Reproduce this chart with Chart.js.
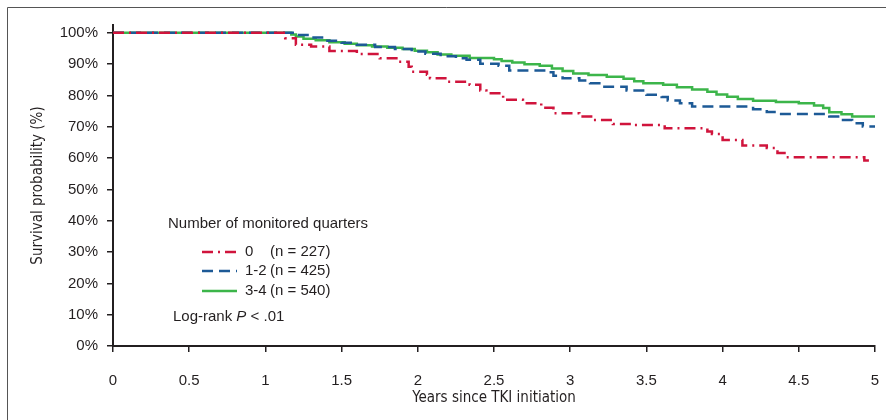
<!DOCTYPE html>
<html>
<head>
<meta charset="utf-8">
<script src="https://cdn.jsdelivr.net/npm/chart.js@4.4.1/dist/chart.umd.min.js"></script>
<style>
  html, body { margin: 0; padding: 0; background: #fff; }
  #wrap { width: 886px; height: 420px; }
</style>
</head>
<body>
<div id="wrap"><canvas id="kmChart" width="886" height="420"></canvas></div>
<script>
// Kaplan-Meier survival by number of monitored quarters (step points: time of drop, new level %)
const xTicks = [0, 0.5, 1, 1.5, 2, 2.5, 3, 3.5, 4, 4.5, 5];
const yTicks = [0, 10, 20, 30, 40, 50, 60, 70, 80, 90, 100];

const groupLabels = ['0', '1-2', '3-4'];
const groupCounts = [227, 425, 540];

const redX = [0, 1.13, 1.2, 1.3, 1.42, 1.6, 1.75, 1.87, 1.94, 1.96, 2.06, 2.08, 2.19, 2.34, 2.41, 2.45, 2.56, 2.69, 2.81, 2.89, 3.06, 3.15, 3.28, 3.4, 3.62, 3.9, 3.93, 4.0, 4.13, 4.29, 4.36, 4.42, 4.93, 4.96];
const redY = [100, 98.3, 96.2, 95.6, 94.2, 93.2, 91.9, 90.8, 89.2, 87.6, 86.6, 85.5, 84.4, 83.4, 81.6, 80.7, 78.6, 77.5, 76.1, 74.3, 73.3, 72.2, 70.9, 70.6, 69.5, 68.5, 67.7, 65.8, 64.0, 63.2, 61.6, 60.3, 59.2, 59.2];

const blueX = [0, 1.2, 1.3, 1.38, 1.5, 1.6, 1.72, 1.85, 1.96, 2.05, 2.15, 2.25, 2.32, 2.41, 2.53, 2.6, 2.85, 2.89, 2.95, 3.06, 3.13, 3.2, 3.37, 3.5, 3.6, 3.64, 3.72, 3.8, 4.2, 4.29, 4.36, 4.7, 4.79, 4.85, 4.92, 5.0];
const blueY = [100, 99.3, 98.5, 97.5, 96.8, 96.2, 95.5, 94.8, 94.0, 93.3, 92.5, 91.9, 91.4, 90.1, 89.5, 88.0, 87.4, 86.3, 85.5, 84.8, 83.9, 82.8, 81.6, 80.2, 79.5, 78.4, 77.5, 76.5, 75.6, 74.7, 74.1, 73.3, 72.2, 71.1, 70.1, 70.0];

const greenX = [0, 1.17, 1.2, 1.25, 1.33, 1.42, 1.52, 1.6, 1.7, 1.8, 1.9, 1.98, 2.06, 2.13, 2.22, 2.34, 2.5, 2.55, 2.62, 2.7, 2.8, 2.88, 2.95, 3.02, 3.12, 3.24, 3.35, 3.42, 3.48, 3.61, 3.7, 3.8, 3.9, 3.96, 4.03, 4.1, 4.2, 4.35, 4.5, 4.6, 4.66, 4.7, 4.78, 4.85, 5.0];
const greenY = [100, 99.5, 98.8, 98.1, 97.6, 97.0, 96.5, 96.0, 95.6, 95.2, 94.8, 94.3, 93.8, 93.1, 92.7, 92.0, 91.6, 91.0, 90.5, 90.0, 89.5, 88.6, 87.8, 87.0, 86.5, 86.0, 85.3, 84.5, 83.9, 83.4, 82.6, 81.9, 81.2, 80.3, 79.6, 78.9, 78.3, 77.9, 77.5, 76.8, 76.0, 74.6, 74.0, 73.3, 73.3];

const ink = '#231f20';
const colors = ['#d0143c', '#1d5a96', '#3cb54a'];
const dashes = [[11, 5, 2, 5], [11, 6], []];
const sans = '"Liberation Sans", Arial, sans-serif';
const narrow = '"Liberation Sans Narrow", "DejaVu Sans Condensed", sans-serif';

function pts(xs, ys) {
  return xs.map((x, i) => ({ x: x, y: ys[i] }));
}

// frame lines + legend block drawn on the canvas
const extras = {
  id: 'extras',
  beforeDraw(chart) {
    const ctx = chart.ctx;
    ctx.save();
    ctx.strokeStyle = '#555';
    ctx.lineWidth = 1;
    ctx.beginPath();
    ctx.moveTo(7.5, 420);
    ctx.lineTo(7.5, 7.5);
    ctx.lineTo(886, 7.5);
    ctx.stroke();
    ctx.restore();
  },
  afterDraw(chart) {
    const ctx = chart.ctx;
    ctx.save();
    ctx.fillStyle = ink;
    ctx.textBaseline = 'middle';
    ctx.font = '15px ' + sans;
    ctx.fillText('Number of monitored quarters', 168, 224);

    const rows = [252, 271, 291];
    rows.forEach((y, i) => {
      ctx.strokeStyle = colors[i];
      ctx.lineWidth = 2.5;
      ctx.setLineDash(dashes[i]);
      ctx.beginPath();
      ctx.moveTo(202, y);
      ctx.lineTo(237, y);
      ctx.stroke();
      ctx.setLineDash([]);
      ctx.fillStyle = ink;
      ctx.fillText(groupLabels[i], 245, y);
      ctx.fillText('(n = ' + groupCounts[i] + ')', 270, y);
    });

    let x = 173;
    const y = 317;
    ctx.fillText('Log-rank ', x, y);
    x += ctx.measureText('Log-rank ').width;
    ctx.font = 'italic 15px ' + sans;
    ctx.fillText('P', x, y);
    x += ctx.measureText('P').width;
    ctx.font = '15px ' + sans;
    ctx.fillText(' < .01', x, y);
    ctx.restore();
  }
};

const ctxKm = document.getElementById('kmChart').getContext('2d');
const kmChart = new Chart(ctxKm, {
  type: 'line',
  data: {
    datasets: [
      { label: groupLabels[0], data: pts(redX, redY), borderColor: colors[0], borderDash: dashes[0] },
      { label: groupLabels[1], data: pts(blueX, blueY), borderColor: colors[1], borderDash: dashes[1] },
      { label: groupLabels[2], data: pts(greenX, greenY), borderColor: colors[2], borderDash: dashes[2] }
    ].map(d => Object.assign(d, { stepped: 'before', borderWidth: 2.5, pointRadius: 0, fill: false }))
  },
  options: {
    responsive: false,
    animation: false,
    layout: {
      padding: { left: 0, right: 0, top: 25, bottom: 0 }
    },
    scales: {
      x: {
        type: 'linear',
        min: 0,
        max: 5,
        afterBuildTicks: s => { s.ticks = xTicks.map(v => ({ value: v })); },
        afterFit: s => { s.height = 74; s.paddingRight = 11; },
        border: { display: true, color: ink, width: 2 },
        grid: { display: true, drawOnChartArea: false, drawTicks: true, tickLength: 6, color: ink, lineWidth: 1.5 },
        ticks: {
          color: ink,
          padding: 20,
          maxRotation: 0,
          callback: v => String(v),
          font: { family: sans, size: 15 }
        },
        title: {
          display: true,
          text: 'Years since TKI initiation',
          color: ink,
          padding: { top: 0, bottom: 13 },
          font: { family: narrow, size: 15 }
        }
      },
      y: {
        min: 0,
        max: 102.5,
        afterBuildTicks: s => { s.ticks = yTicks.map(v => ({ value: v })); },
        afterFit: s => { s.width = 113; },
        border: { display: true, color: ink, width: 2 },
        grid: { display: true, drawOnChartArea: false, drawTicks: true, tickLength: 6, color: ink, lineWidth: 1.5 },
        ticks: {
          color: ink,
          padding: 9,
          callback: v => v + '%',
          font: { family: sans, size: 15 }
        },
        title: {
          display: true,
          text: 'Survival probability (%)',
          color: ink,
          padding: { top: 29, bottom: 0 },
          font: { family: narrow, size: 15 }
        }
      }
    },
    plugins: {
      legend: { display: false },
      tooltip: { enabled: false }
    }
  },
  plugins: [extras]
});
</script>
</body>
</html>
